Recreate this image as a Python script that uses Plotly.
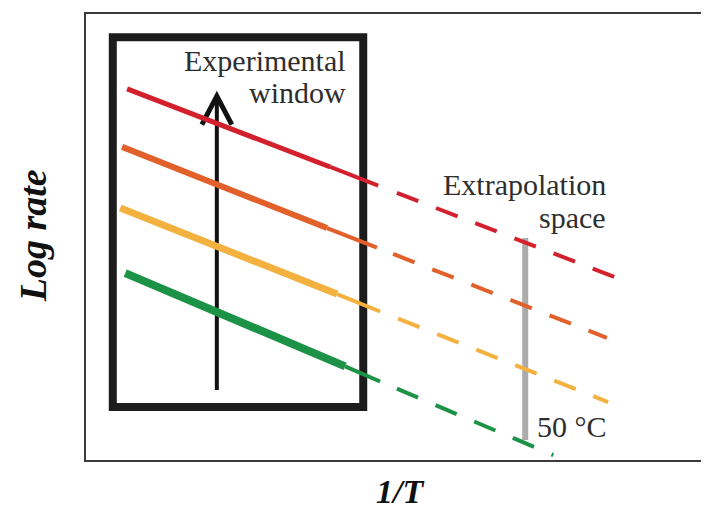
import plotly.graph_objects as go

# ---- data (arbitrary units: x = 1/T, y = log rate) ----
series_names = ["Red", "Orange", "Yellow", "Green"]
series_colors = ["#d2202c", "#e2612b", "#f3b13f", "#1b9246"]
thick_widths = [5, 6, 7, 8]

# points: start, end of thick solid, end of thin solid, start of dashes, end of dashes
red_x = [0.66, 3.92, 4.69, 4.99, 8.49]
red_y = [8.32, 6.57, 6.15, 5.99, 4.10]
orange_x = [0.58, 3.87, 4.67, 4.93, 8.36]
orange_y = [7.02, 5.20, 4.76, 4.62, 2.74]
yellow_x = [0.55, 4.03, 4.72, 5.01, 8.38]
yellow_y = [5.65, 3.72, 3.33, 3.17, 1.30]
green_x = [0.63, 4.16, 4.72, 4.99, 7.50]
green_y = [4.19, 2.10, 1.76, 1.60, 0.11]

window_x = [0.43, 4.45]      # experimental window box
window_y = [1.19, 9.48]
arrow_x = 2.10
arrow_y = [1.57, 8.20]
bar_x = 7.05                 # 50 °C line
bar_y = [0.45, 4.98]

xs = [red_x, orange_x, yellow_x, green_x]
ys = [red_y, orange_y, yellow_y, green_y]

fig = go.Figure()

shapes = [
    dict(type="rect", xref="x", yref="y", x0=window_x[0], x1=window_x[1],
         y0=window_y[0], y1=window_y[1], line=dict(color="#1c1c1c", width=8),
         layer="below"),
    dict(type="line", xref="x", yref="y", x0=arrow_x, x1=arrow_x,
         y0=arrow_y[0], y1=arrow_y[1] - 0.08, line=dict(color="#111111", width=4),
         layer="below"),
    dict(type="path", xref="x", yref="y",
         path=f"M {arrow_x-0.24},{arrow_y[1]-0.68} L {arrow_x},{arrow_y[1]-0.04} L {arrow_x+0.24},{arrow_y[1]-0.68}",
         line=dict(color="#111111", width=5), layer="below"),
    dict(type="line", xref="x", yref="y", x0=bar_x, x1=bar_x,
         y0=bar_y[0], y1=bar_y[1], line=dict(color="#ababab", width=6),
         layer="below"),
]

for name, c, w, x, y in zip(series_names, series_colors, thick_widths, xs, ys):
    fig.add_trace(go.Scatter(x=x[0:2], y=y[0:2], mode="lines",
                             line=dict(color=c, width=w), name=name, showlegend=False))
    fig.add_trace(go.Scatter(x=x[1:3], y=y[1:3], mode="lines",
                             line=dict(color=c, width=4), showlegend=False))
    fig.add_trace(go.Scatter(x=x[3:5], y=y[3:5], mode="lines",
                             line=dict(color=c, width=4, dash="23px,19px"),
                             showlegend=False))

serif = "Liberation Serif, Times New Roman, serif"
txt = dict(family=serif, size=30, color="#2e2e2e")
ann = [
    dict(x=4.20, y=8.95, xref="x", yref="y", text="Experimental", showarrow=False,
         xanchor="right", yanchor="middle", font=txt),
    dict(x=4.20, y=8.25, xref="x", yref="y", text="window", showarrow=False,
         xanchor="right", yanchor="middle", font=txt),
    dict(x=8.38, y=6.17, xref="x", yref="y", text="Extrapolation", showarrow=False,
         xanchor="right", yanchor="middle", font=txt),
    dict(x=8.38, y=5.43, xref="x", yref="y", text="space", showarrow=False,
         xanchor="right", yanchor="middle", font=txt),
    dict(x=7.20, y=0.76, xref="x", yref="y", text="50 °C", showarrow=False,
         xanchor="left", yanchor="middle", font=txt),
    dict(x=-0.0851, y=0.504, xref="paper", yref="paper", text="<b><i>Log rate</i></b>",
         showarrow=False, textangle=-90, xanchor="center", yanchor="middle",
         font=dict(family=serif, size=38, color="#111111")),
    dict(x=0.504, y=-0.0717, xref="paper", yref="paper", text="<b><i>1/T</i></b>",
         showarrow=False, xanchor="center", yanchor="middle",
         font=dict(family=serif, size=34, color="#111111")),
]

fig.update_layout(
    width=701, height=507,
    margin=dict(l=78, r=0, t=6, b=55),
    paper_bgcolor="white", plot_bgcolor="white",
    shapes=shapes, annotations=ann, showlegend=False,
    xaxis=dict(range=[0, 10], showgrid=False, zeroline=False, showticklabels=False,
               ticks="", showline=True, mirror=True, linecolor="#3a3a3a", linewidth=2),
    yaxis=dict(range=[0, 10], showgrid=False, zeroline=False, showticklabels=False,
               ticks="", showline=True, mirror=False, linecolor="#3a3a3a", linewidth=2),
)

fig.write_html("out.html")
